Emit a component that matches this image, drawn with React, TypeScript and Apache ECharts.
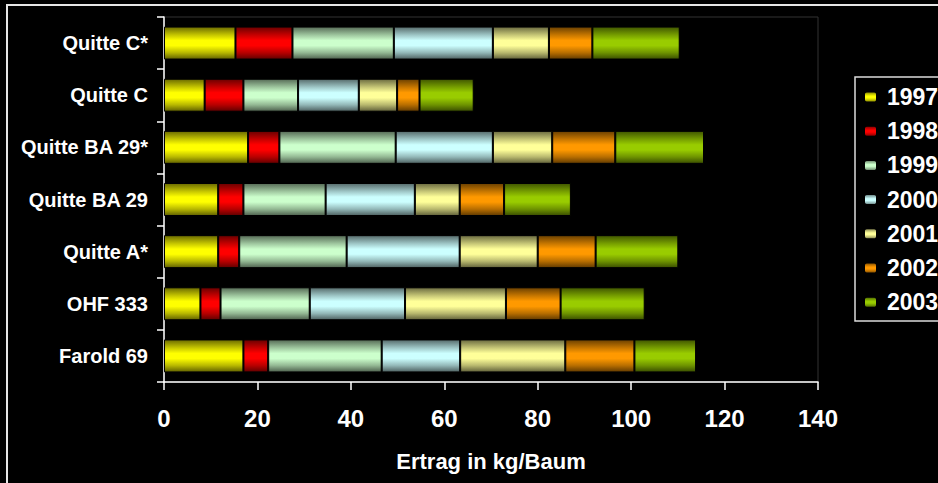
import React, { useEffect, useRef } from "react";
import * as echarts from "echarts";

const categories = ["Farold 69", "OHF 333", "Quitte A*", "Quitte BA 29", "Quitte BA 29*", "Quitte C", "Quitte C*"];
const years = ["1997", "1998", "1999", "2000", "2001", "2002", "2003"];
const baseColors = ["#ffff00", "#ff0000", "#ccffcc", "#ccffff", "#ffff99", "#ff9900", "#99cc00"];

// values per year, in category order (bottom to top)
const v1997 = [17.0, 7.8, 11.6, 11.6, 18.0, 8.7, 15.3];
const v1998 = [5.3, 4.3, 4.5, 5.4, 6.7, 8.3, 12.2];
const v1999 = [24.3, 19.1, 23.0, 17.6, 24.9, 11.7, 21.7];
const v2000 = [16.8, 20.4, 24.2, 19.1, 20.8, 13.0, 21.2];
const v2001 = [22.5, 21.6, 16.7, 9.6, 12.7, 8.2, 12.0];
const v2002 = [14.8, 11.7, 12.4, 9.5, 13.5, 4.8, 9.3];
const v2003 = [13.2, 18.0, 17.7, 14.3, 19.0, 11.6, 18.7];

const xTicks = { min: 0, max: 140, interval: 20 };

const FONT = 'Arial, "Liberation Sans", sans-serif';

function shade(hex: string, f: number): string {
  const n = parseInt(hex.slice(1), 16);
  const r = Math.round(((n >> 16) & 255) * f);
  const g = Math.round(((n >> 8) & 255) * f);
  const b = Math.round((n & 255) * f);
  return `rgb(${r},${g},${b})`;
}

function grad(hex: string) {
  return new echarts.graphic.LinearGradient(0, 0, 0, 1, [
    { offset: 0, color: shade(hex, 0.42) },
    { offset: 0.25, color: shade(hex, 0.78) },
    { offset: 0.42, color: shade(hex, 1) },
    { offset: 0.58, color: shade(hex, 1) },
    { offset: 0.8, color: shade(hex, 0.72) },
    { offset: 1, color: shade(hex, 0.38) },
  ]);
}

export default function App() {
  const ref = useRef<HTMLDivElement>(null);
  useEffect(() => {
    if (!ref.current) return;
    const chart = echarts.init(ref.current, undefined, { renderer: "svg" });
    const values = [v1997, v1998, v1999, v2000, v2001, v2002, v2003];
    chart.setOption({
      animation: false,
      backgroundColor: "#000",
      textStyle: { fontFamily: FONT },
      graphic: [
        {
          type: "rect",
          shape: { x: 7, y: 5, width: 945, height: 495 },
          style: { fill: "none", stroke: "#e6e6e6", lineWidth: 2 },
          z: 100,
        },
        {
          type: "rect",
          shape: { x: 855, y: 77, width: 200, height: 244 },
          style: { fill: "none", stroke: "#dcdcdc", lineWidth: 1.5 },
          z: 100,
        },
      ],
      grid: {
        left: 164,
        right: 120,
        top: 17,
        bottom: 101,
        show: true,
        borderColor: "#333",
        borderWidth: 1,
        backgroundColor: "#000",
      },
      legend: {
        orient: "vertical",
        left: 855,
        top: 77,
        padding: [8.5, 0, 9, 8],
        itemWidth: 13,
        itemHeight: 11,
        itemGap: 11.2,
        data: years,
        textStyle: {
          color: "#fff",
          fontSize: 23,
          fontWeight: "bold",
          fontFamily: FONT,
          padding: [0, 0, 0, 5],
        },
      },
      xAxis: {
        type: "value",
        min: xTicks.min,
        max: xTicks.max,
        interval: xTicks.interval,
        splitLine: { show: false },
        axisLine: { show: true, lineStyle: { color: "#fff", width: 1.5 } },
        axisTick: { show: true, length: 8, lineStyle: { color: "#fff", width: 1.5 } },
        axisLabel: { color: "#fff", fontSize: 24, fontWeight: "bold", margin: 24, fontFamily: FONT },
        name: "Ertrag in kg/Baum",
        nameLocation: "middle",
        nameGap: 68,
        nameTextStyle: { color: "#fff", fontSize: 22, fontWeight: "bold", fontFamily: FONT },
      },
      yAxis: {
        type: "category",
        data: categories,
        axisLine: { show: true, lineStyle: { color: "#fff", width: 1.5 } },
        axisTick: { show: true, length: 7, lineStyle: { color: "#fff", width: 1.5 } },
        axisLabel: { color: "#fff", fontSize: 20, fontWeight: "bold", margin: 16, fontFamily: FONT },
      },
      series: years.map((y, i) => ({
        name: y,
        type: "bar",
        stack: "total",
        barWidth: 33,
        data: values[i],
        itemStyle: { color: grad(baseColors[i]), borderColor: "#000", borderWidth: 1 },
      })),
    });
    return () => chart.dispose();
  }, []);
  return (
    <div
      ref={ref}
      style={{ position: "fixed", left: 0, top: 0, width: 938, height: 483, background: "#000" }}
    />
  );
}
